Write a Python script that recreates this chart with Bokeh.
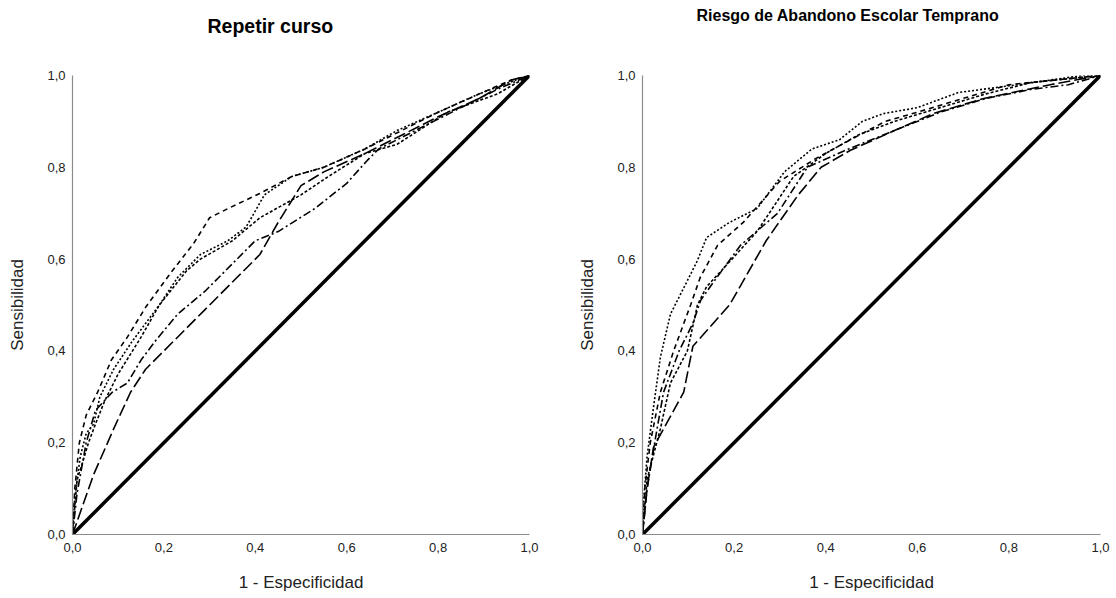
from bokeh.plotting import figure
from bokeh.layouts import row
from bokeh.models import Range1d, FixedTicker, Title
from bokeh.embed import file_html
from bokeh.resources import INLINE

# ---------------- data ----------------
tick_values = [0.0, 0.2, 0.4, 0.6, 0.8, 1.0]
tick_labels = ["0,0", "0,2", "0,4", "0,6", "0,8", "1,0"]

titles = ["Repetir curso", "Riesgo de Abandono Escolar Temprano"]
x_label = "1 - Especificidad"
y_label = "Sensibilidad"

diag_x = [0.0, 1.0]
diag_y = [0.0, 1.0]

# Panel 1: Repetir curso
p1_a_x = [0, 0.005, 0.015, 0.03, 0.055, 0.085, 0.12, 0.16, 0.215, 0.265, 0.3, 0.34, 0.41, 0.48, 0.55, 0.64, 0.72, 0.80, 0.89, 0.96, 1]
p1_a_y = [0, 0.10, 0.20, 0.26, 0.31, 0.38, 0.43, 0.495, 0.57, 0.634, 0.69, 0.71, 0.743, 0.78, 0.80, 0.84, 0.88, 0.92, 0.96, 0.99, 1]
p1_b_x = [0, 0.005, 0.017, 0.03, 0.046, 0.06, 0.09, 0.13, 0.19, 0.23, 0.28, 0.34, 0.38, 0.42, 0.48, 0.55, 0.64, 0.71, 0.80, 0.89, 0.97, 1]
p1_b_y = [0, 0.08, 0.17, 0.22, 0.24, 0.30, 0.36, 0.42, 0.50, 0.56, 0.61, 0.64, 0.67, 0.74, 0.78, 0.80, 0.84, 0.88, 0.92, 0.96, 0.99, 1]
p1_c_x = [0, 0.01, 0.02, 0.035, 0.05, 0.07, 0.10, 0.15, 0.19, 0.25, 0.28, 0.35, 0.41, 0.50, 0.56, 0.64, 0.71, 0.82, 0.93, 1]
p1_c_y = [0, 0.12, 0.15, 0.20, 0.24, 0.29, 0.35, 0.43, 0.50, 0.575, 0.60, 0.64, 0.69, 0.74, 0.78, 0.83, 0.85, 0.92, 0.96, 1]
p1_d_x = [0, 0.01, 0.03, 0.05, 0.087, 0.12, 0.15, 0.18, 0.23, 0.29, 0.35, 0.40, 0.45, 0.53, 0.60, 0.645, 0.67, 0.75, 0.85, 0.93, 1]
p1_d_y = [0, 0.09, 0.20, 0.27, 0.31, 0.33, 0.38, 0.42, 0.48, 0.53, 0.59, 0.64, 0.66, 0.71, 0.765, 0.815, 0.84, 0.88, 0.93, 0.97, 1]
p1_e_x = [0, 0.046, 0.09, 0.127, 0.16, 0.22, 0.29, 0.35, 0.41, 0.45, 0.50, 0.55, 0.64, 0.72, 0.80, 0.89, 0.96, 1]
p1_e_y = [0, 0.13, 0.23, 0.31, 0.36, 0.42, 0.49, 0.55, 0.61, 0.68, 0.76, 0.79, 0.83, 0.87, 0.91, 0.95, 0.99, 1]

# Panel 2: Riesgo de Abandono Escolar Temprano
p2_a_x = [0, 0.005, 0.017, 0.039, 0.068, 0.105, 0.126, 0.164, 0.22, 0.30, 0.38, 0.454, 0.53, 0.60, 0.70, 0.80, 0.90, 1]
p2_a_y = [0, 0.10, 0.20, 0.31, 0.40, 0.50, 0.56, 0.63, 0.68, 0.77, 0.82, 0.86, 0.90, 0.92, 0.95, 0.98, 0.99, 1]
p2_b_x = [0, 0.003, 0.01, 0.024, 0.039, 0.061, 0.098, 0.12, 0.14, 0.19, 0.25, 0.31, 0.37, 0.43, 0.48, 0.526, 0.60, 0.69, 0.82, 0.96, 1]
p2_b_y = [0, 0.08, 0.17, 0.277, 0.386, 0.48, 0.553, 0.597, 0.647, 0.68, 0.71, 0.79, 0.84, 0.86, 0.90, 0.917, 0.93, 0.963, 0.98, 1.0, 1]
p2_c_x = [0, 0.01, 0.039, 0.061, 0.098, 0.12, 0.14, 0.177, 0.25, 0.33, 0.40, 0.47, 0.55, 0.65, 0.75, 0.85, 1]
p2_c_y = [0, 0.12, 0.23, 0.33, 0.40, 0.50, 0.54, 0.58, 0.66, 0.78, 0.83, 0.87, 0.90, 0.93, 0.96, 0.985, 1]
p2_d_x = [0, 0.01, 0.03, 0.046, 0.08, 0.11, 0.127, 0.155, 0.214, 0.295, 0.36, 0.45, 0.55, 0.65, 0.75, 0.85, 0.93, 1]
p2_d_y = [0, 0.10, 0.22, 0.31, 0.40, 0.46, 0.51, 0.55, 0.63, 0.70, 0.80, 0.84, 0.88, 0.92, 0.95, 0.97, 0.98, 1]
p2_e_x = [0, 0.01, 0.024, 0.046, 0.09, 0.11, 0.19, 0.27, 0.34, 0.39, 0.454, 0.55, 0.635, 0.745, 0.89, 1]
p2_e_y = [0, 0.10, 0.19, 0.23, 0.31, 0.41, 0.50, 0.64, 0.74, 0.80, 0.837, 0.88, 0.917, 0.95, 0.98, 1]

panel1 = [(p1_a_x, p1_a_y), (p1_b_x, p1_b_y), (p1_c_x, p1_c_y), (p1_d_x, p1_d_y), (p1_e_x, p1_e_y)]
panel2 = [(p2_a_x, p2_a_y), (p2_b_x, p2_b_y), (p2_c_x, p2_c_y), (p2_d_x, p2_d_y), (p2_e_x, p2_e_y)]

# ---------------- styles ----------------
dashes = ["5 4", "2 2", "3 2", "8 3 2 3", "12 4"]
FONT = "Liberation Sans"


def make_panel(curves, title, frame_w, border_right, title_offset, title_size, spacer):
    p = figure(frame_width=frame_w, frame_height=459, output_backend="svg", toolbar_location=None,
               x_range=Range1d(0, 1), y_range=Range1d(0, 1),
               min_border_left=72, min_border_right=border_right,
               min_border_top=75, min_border_bottom=62)
    p.outline_line_color = None
    p.xgrid.visible = False
    p.ygrid.visible = False
    p.background_fill_color = "white"
    p.border_fill_color = "white"

    for ax in (p.xaxis[0], p.yaxis[0]):
        ax.ticker = FixedTicker(ticks=tick_values)
        ax.major_label_overrides = dict(zip(tick_values, tick_labels))
        ax.major_tick_line_color = None
        ax.minor_tick_line_color = None
        ax.major_tick_out = 0
        ax.major_tick_in = 0
        ax.minor_tick_out = 0
        ax.minor_tick_in = 0
        ax.axis_line_color = "#8c8c8c"
        ax.axis_line_width = 1.2
        ax.major_label_text_font = FONT
        ax.major_label_text_font_size = "13px"
        ax.major_label_text_color = "#222222"
        ax.axis_label_text_font = FONT
        ax.axis_label_text_font_size = "17px"
        ax.axis_label_text_font_style = "normal"
        ax.axis_label_text_color = "#222222"

    p.xaxis.axis_label = x_label
    p.yaxis.axis_label = y_label
    p.xaxis.major_label_standoff = 8
    p.xaxis.axis_label_standoff = 18
    p.yaxis.major_label_standoff = 7
    p.yaxis.axis_label_standoff = 17

    p.line(diag_x, diag_y, line_color="black", line_width=3.5)
    for (xs, ys), d in zip(curves, dashes):
        p.line(xs, ys, line_color="black", line_width=1.6, line_dash=d)

    # empty spacer panel between frame and title, then the title itself
    p.add_layout(Title(text=" ", text_font_size="1px", standoff=spacer), "above")
    p.add_layout(Title(text=title, align="left", offset=title_offset, standoff=0,
                       text_font=FONT, text_font_size=title_size, text_font_style="bold",
                       text_color="black"), "above")
    return p


p1 = make_panel(panel1, titles[0], 457, 41, 135, "19.5px", 36)
p2 = make_panel(panel2, titles[1], 458, 14, 54, "16px", 49)

layout = row(p1, p2)
open("out.html", "w").write(file_html(layout, INLINE))
